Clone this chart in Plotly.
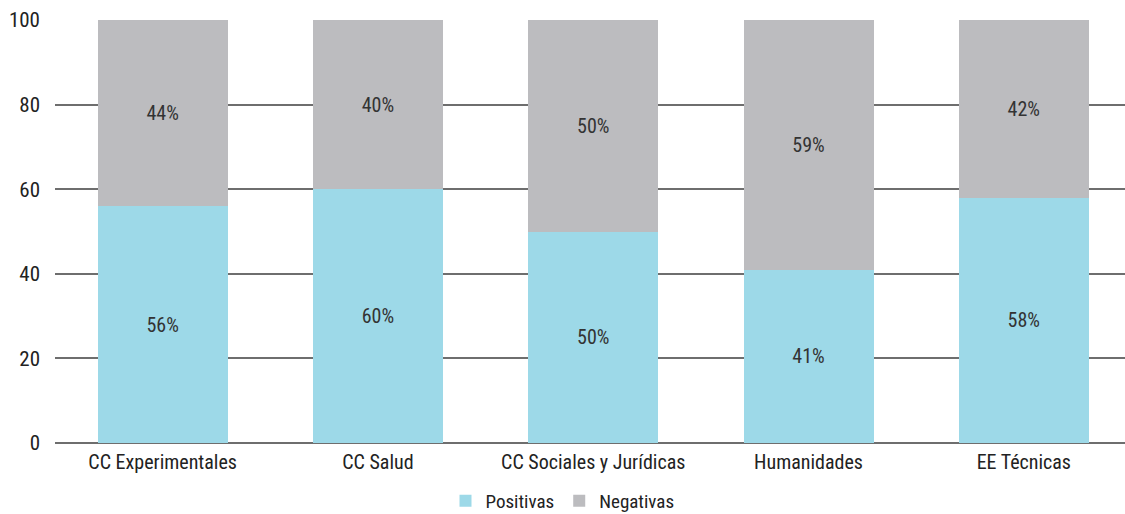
import plotly.graph_objects as go

categories = ["CC Experimentales", "CC Salud", "CC Sociales y Jurídicas", "Humanidades", "EE Técnicas"]
positivas = [56, 60, 50, 41, 58]
negativas = [44, 40, 50, 59, 42]

FONT = "Liberation Sans Narrow, Roboto Condensed, Arial Narrow, sans-serif"

fig = go.Figure()
fig.add_trace(go.Bar(
    x=categories, y=positivas, name="Positivas",
    marker=dict(color="#9dd9e8", line=dict(width=0)),
    text=[f"{v}%" for v in positivas], textposition="inside", insidetextanchor="middle",
    textfont=dict(family=FONT, size=20, color="#333333"),
    width=0.604,
))
fig.add_trace(go.Bar(
    x=categories, y=negativas, name="Negativas",
    marker=dict(color="#bcbcbf", line=dict(width=0)),
    text=[f"{v}%" for v in negativas], textposition="inside", insidetextanchor="middle",
    textfont=dict(family=FONT, size=20, color="#333333"),
    width=0.604,
))

fig.update_layout(
    barmode="stack",
    width=1125, height=514,
    margin=dict(l=55, r=0, t=20, b=71, autoexpand=False),
    paper_bgcolor="white", plot_bgcolor="white",
    font=dict(family=FONT, size=20, color="#222222"),
    showlegend=True,
    legend=dict(orientation="h", x=0.5, xanchor="center", xref="container",
                y=-0.092, yanchor="top", yref="paper",
                font=dict(family=FONT, size=19, color="#222222"),
                traceorder="normal"),
    uniformtext=dict(mode=False),
)
fig.update_xaxes(range=[-0.5, 4.47], showgrid=False, showline=False, ticks="", automargin=False,
                 ticklabelstandoff=5,
                 tickfont=dict(family=FONT, size=20, color="#222222"))
fig.update_yaxes(range=[0, 100], dtick=20, showgrid=True, gridcolor="#6e6e6e", gridwidth=1.5,
                 zeroline=True, zerolinecolor="#6e6e6e", zerolinewidth=1.5, automargin=False,
                 tickfont=dict(family=FONT, size=21, color="#222222"), ticks="",
                 ticklabelstandoff=14, layer="below traces")

fig.write_html("out.html", config={"displayModeBar": False},
               post_script="document.body.style.margin='0px';")
